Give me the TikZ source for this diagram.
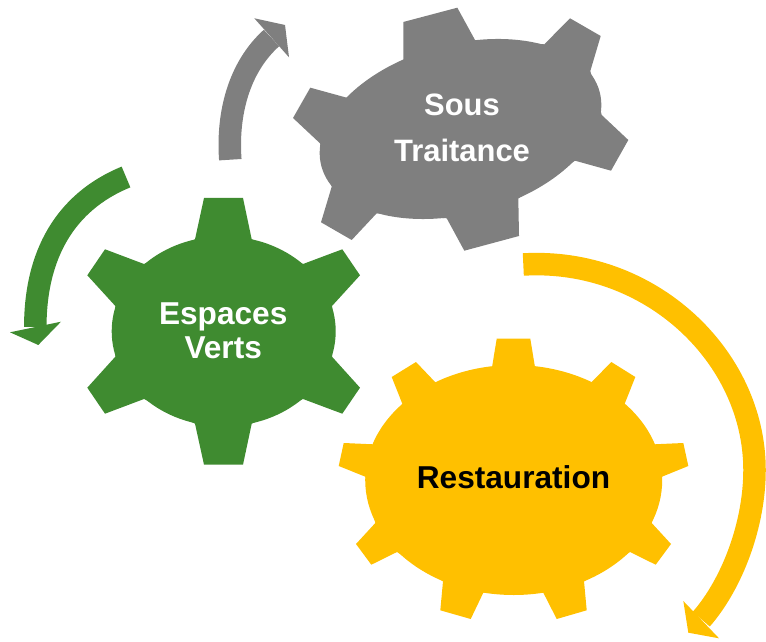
\documentclass[tikz,border=0pt]{standalone}
\usepackage{fontspec}
\setmainfont{Liberation Sans}
\definecolor{gearGreen}{HTML}{3F8B30}
\definecolor{gearGray}{HTML}{7F7F7F}
\definecolor{gearGold}{HTML}{FFC000}
\tikzset{
  bend arrow/.style = {line width = 0.225cm},
  gear label/.style = {font = \bfseries\fontsize{9}{9.7}\selectfont, align = center, inner sep = 0pt}
}
\begin{document}
\begin{tikzpicture}
\useasboundingbox (0,0) rectangle (7.66,6.41);
\fill [gearGray] (4.033,6.19) -- (4.573,6.333) -- (4.75,6.01) -- (5.443,5.967) -- (5.7,6.227) -- (6.007,6.05) -- (5.903,5.7) -- (6.017,5.26) -- (6.283,5.01) -- (6.11,4.703) -- (5.75,4.803) -- (5.183,4.427) -- (5.19,4.05) -- (4.643,3.903) -- (4.467,4.227) -- (3.767,4.277) -- (3.517,4.01) -- (3.21,4.187) -- (3.317,4.543) -- (3.2,4.977) -- (2.93,5.23) -- (3.103,5.533) -- (3.467,5.433) -- (4.033,5.81) -- cycle;
\fill [gearGray, rotate around = {15:(4.605,5.12)}] (4.605,5.12) ellipse (1.44 and 0.848);
\fill [gearGreen] (2.04,4.43) -- (2.43,4.43) -- (2.517,4.017) -- (3.03,3.77) -- (3.423,3.917) -- (3.6,3.657) -- (3.32,3.35) -- (3.32,2.843) -- (3.6,2.533) -- (3.423,2.273) -- (3.03,2.42) -- (2.517,2.173) -- (2.43,1.763) -- (2.04,1.763) -- (1.95,2.173) -- (1.44,2.42) -- (1.05,2.273) -- (0.873,2.533) -- (1.153,2.843) -- (1.153,3.35) -- (0.873,3.657) -- (1.05,3.917) -- (1.44,3.77) -- (1.95,4.017) -- cycle;
\fill [gearGreen] (2.237,3.097) ellipse (1.12 and 0.95);
\fill [gearGold] (4.967,3.023) -- (5.303,3.023) -- (5.35,2.737) -- (5.91,2.583) -- (6.113,2.79) -- (6.353,2.64) -- (6.243,2.363) -- (6.543,1.967) -- (6.833,1.98) -- (6.883,1.75) -- (6.62,1.643) -- (6.517,1.18) -- (6.71,0.97) -- (6.557,0.763) -- (6.3,0.89) -- (5.84,0.597) -- (5.867,0.307) -- (5.567,0.22) -- (5.433,0.483) -- (4.833,0.483) -- (4.707,0.22) -- (4.403,0.307) -- (4.43,0.597) -- (3.97,0.89) -- (3.713,0.763) -- (3.56,0.97) -- (3.753,1.18) -- (3.653,1.643) -- (3.387,1.75) -- (3.437,1.98) -- (3.73,1.967) -- (4.027,2.363) -- (3.917,2.64) -- (4.16,2.79) -- (4.357,2.583) -- (4.92,2.737) -- cycle;
\fill [gearGold] (5.137,1.61) ellipse (1.485 and 1.15);
\draw [bend arrow, gearGray] (2.303,4.813) .. controls (2.27,5.266) and (2.385,5.733) .. (2.715,6.03);
\fill [gearGray] (2.543,6.227) -- (2.85,6.16) -- (2.89,5.837) -- cycle;
\draw [bend arrow, gearGreen] (1.26,4.64) .. controls (0.65,4.39) and (0.353,3.86) .. (0.353,3.14);
\fill [gearGreen] (0.10,3.087) -- (0.383,2.96) -- (0.61,3.193) -- cycle;
\draw [bend arrow, gearGold] (5.233,3.765) .. controls (6.502,3.84) and (7.545,2.844) .. (7.545,1.71) .. controls (7.545,1.162) and (7.32,0.57) .. (7.012,0.218);
\fill [gearGold] (6.833,0.40) -- (6.883,0.083) -- (7.19,0.027) -- cycle;
\node [gear label, white, font = \bfseries\fontsize{8.8}{13}\selectfont] (sous) at (4.62,5.13) {Sous\\Traitance};
\node [gear label, white] (espaces) at (2.232,3.10) {Espaces\\Verts};
\node [gear label, black] (restauration) at (5.135,1.642) {Restauration};
\end{tikzpicture}
\end{document}
